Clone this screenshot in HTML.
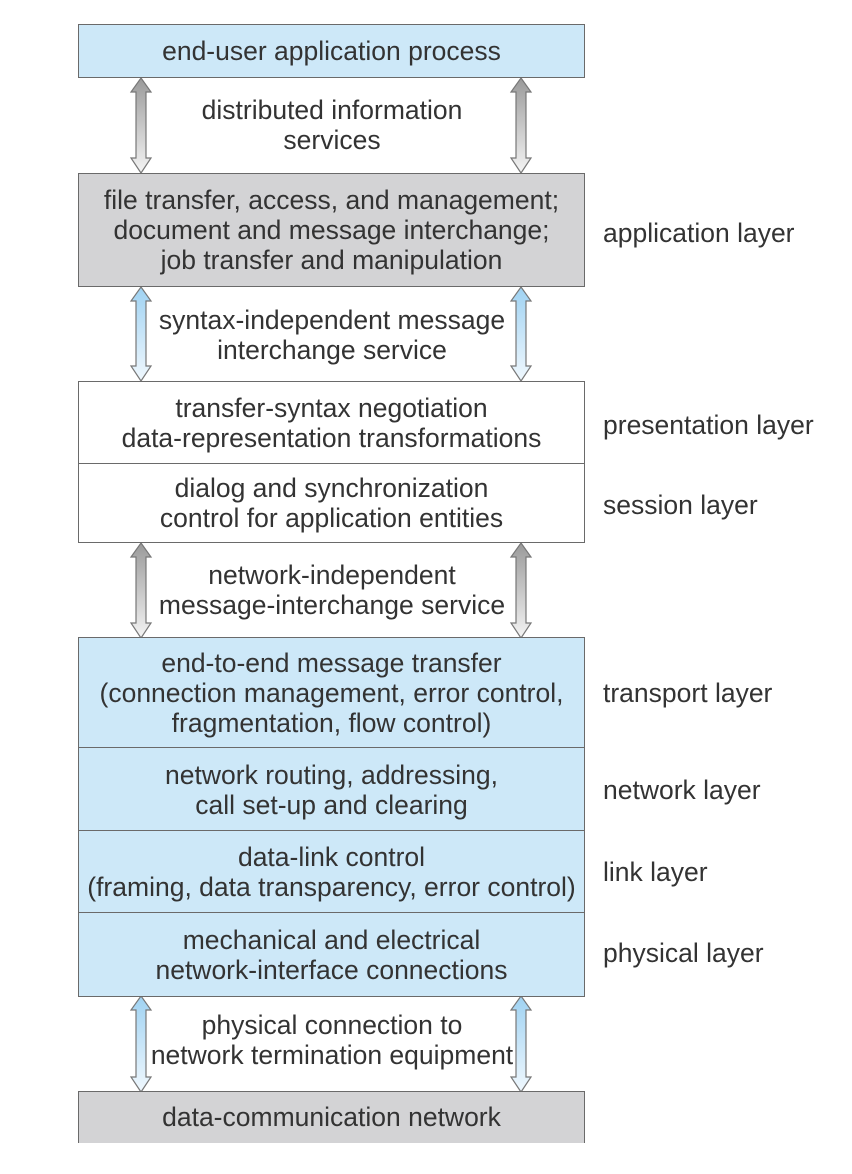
<!DOCTYPE html>
<html><head><meta charset="utf-8"><style>
body{margin:0;background:#fff;}
#c{position:relative;width:852px;height:1174px;overflow:hidden;font-family:"Liberation Sans",Arial,sans-serif;color:#333;font-size:26.5px;}
.b{position:absolute;left:78px;width:507px;border:1.5px solid #6a6a6a;box-sizing:border-box;display:flex;flex-direction:column;justify-content:center;align-items:center;text-align:center;line-height:30px;white-space:nowrap;}
.blue{background:#cde8f8;}
.gray{background:#d3d3d5;}
.white{background:#fff;}
.t{position:absolute;text-align:center;line-height:30px;left:100px;width:464px;white-space:nowrap;}
.l{position:absolute;left:603px;line-height:30px;white-space:nowrap;}
svg{position:absolute;left:0;top:0;}
</style></head><body><div id="c">
<svg width="852" height="1174">
<defs>
<linearGradient id="g" x1="0" y1="0" x2="0" y2="1"><stop offset="0" stop-color="#9a9a9a"/><stop offset="1" stop-color="#f4f4f4"/></linearGradient>
<linearGradient id="bl" x1="0" y1="0" x2="0" y2="1"><stop offset="0" stop-color="#9fd2f2"/><stop offset="1" stop-color="#f0f8fe"/></linearGradient>
</defs>
<g stroke="#777" stroke-width="1.2">
<path d="M141 78 L151 92 L146 92 L146 158 L151 158 L141 173 L131 158 L136 158 L136 92 L131 92 Z" fill="url(#g)"/>
<path d="M521 78 L531 92 L526 92 L526 158 L531 158 L521 173 L511 158 L516 158 L516 92 L511 92 Z" fill="url(#g)"/>
<path d="M141 287 L151 301 L146 301 L146 366 L151 366 L141 381 L131 366 L136 366 L136 301 L131 301 Z" fill="url(#bl)"/>
<path d="M521 287 L531 301 L526 301 L526 366 L531 366 L521 381 L511 366 L516 366 L516 301 L511 301 Z" fill="url(#bl)"/>
<path d="M141 543 L151 557 L146 557 L146 623 L151 623 L141 638 L131 623 L136 623 L136 557 L131 557 Z" fill="url(#g)"/>
<path d="M521 543 L531 557 L526 557 L526 623 L531 623 L521 638 L511 623 L516 623 L516 557 L511 557 Z" fill="url(#g)"/>
<path d="M141 996 L151 1010 L146 1010 L146 1077 L151 1077 L141 1092 L131 1077 L136 1077 L136 1010 L131 1010 Z" fill="url(#bl)"/>
<path d="M521 996 L531 1010 L526 1010 L526 1077 L531 1077 L521 1092 L511 1077 L516 1077 L516 1010 L511 1010 Z" fill="url(#bl)"/>
</g>
</svg>
<div class="b blue" style="top:24px;height:54px;">end-user application process</div>
<div class="t" style="top:95px;">distributed information<br>services</div>
<div class="b gray" style="top:173px;height:114px;">file transfer, access, and management;<br>document and message interchange;<br>job transfer and manipulation</div>
<div class="l" style="top:218px;">application layer</div>
<div class="t" style="top:305px;">syntax-independent message<br>interchange service</div>
<div class="b white" style="top:381px;height:84px;">transfer-syntax negotiation<br>data-representation transformations</div>
<div class="b white" style="top:463px;height:80px;">dialog and synchronization<br>control for application entities</div>
<div class="l" style="top:410px;">presentation layer</div>
<div class="l" style="top:490px;">session layer</div>
<div class="t" style="top:560px;">network-independent<br>message-interchange service</div>
<div class="b blue" style="top:637px;height:112px;">end-to-end message transfer<br>(connection management, error control,<br>fragmentation, flow control)</div>
<div class="b blue" style="top:747px;height:85px;">network routing, addressing,<br>call set-up and clearing</div>
<div class="b blue" style="top:830px;height:84px;">data-link control<br>(framing, data transparency, error control)</div>
<div class="b blue" style="top:912px;height:85px;">mechanical and electrical<br>network-interface connections</div>
<div class="l" style="top:678px;">transport layer</div>
<div class="l" style="top:775px;">network layer</div>
<div class="l" style="top:857px;">link layer</div>
<div class="l" style="top:938px;">physical layer</div>
<div class="t" style="top:1010px;">physical connection to<br>network termination equipment</div>
<div class="b gray" style="top:1091px;height:60px;border-bottom:none;justify-content:flex-start;padding-top:10px;">data-communication network</div>
<div style="position:absolute;left:0;top:1143px;width:852px;height:31px;background:#fff;"></div>
</div></body></html>
